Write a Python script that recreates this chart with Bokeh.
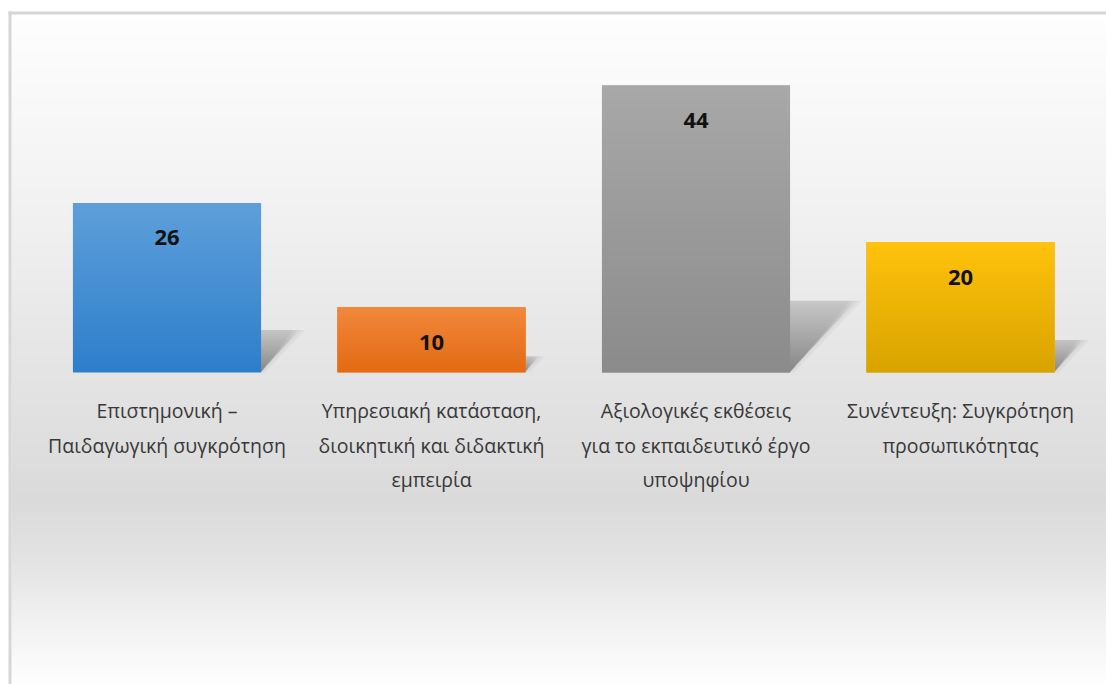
import numpy as np
from bokeh.plotting import figure
from bokeh.models import Range1d
from bokeh.core.properties import value
from bokeh.embed import file_html
from bokeh.resources import INLINE

# ---------------- data ----------------
categories = [
    "Επιστημονική –\nΠαιδαγωγική συγκρότηση",
    "Υπηρεσιακή κατάσταση,\nδιοικητική και διδακτική\nεμπειρία",
    "Αξιολογικές εκθέσεις\nγια το εκπαιδευτικό έργο\nυποψηφίου",
    "Συνέντευξη: Συγκρότηση\nπροσωπικότητας",
]
values = [26, 10, 44, 20]
top_colors = ["#5e9fda", "#f2883c", "#a8a8a8", "#ffc30c"]
bottom_colors = ["#2d7ecb", "#e26a12", "#8b8b8b", "#d9a300"]

# ---------------- geometry / style ----------------
W, H = 1106, 684
XSTEP = 264.5      # px per category
X0 = 166.5         # px of first category centre
YS = 6.52          # px per unit
BASE = 372         # px from top of the baseline
BW = 0.711         # bar width (category units)
FONT = "Open Sans"

x_range = Range1d(-X0 / XSTEP, (W - X0) / XSTEP)
y_range = Range1d(-(H - BASE) / YS, BASE / YS)


def dx(fx):
    return x_range.start + fx / XSTEP


def dy(fy):
    return y_range.end - fy / YS


def hexcol(rgb):
    return "#%02x%02x%02x" % tuple(int(round(c)) for c in rgb)


def h2rgb(h):
    h = h.lstrip("#")
    return np.array([int(h[i:i + 2], 16) for i in (0, 2, 4)], dtype=float)


p = figure(width=W, height=H, x_range=x_range, y_range=y_range,
           x_axis_type=None, y_axis_type=None, toolbar_location=None,
           output_backend="svg", min_border=0, outline_line_color=None,
           background_fill_color="white", border_fill_color="white")

# ---------------- background gradient ----------------
stops_y = [13, 198, 372, 500, 560, 620, 684]
stops_g = [254, 242, 228, 218, 227, 241, 254]
bl, br, bt, bb, bc = [], [], [], [], []
for fy in range(14, H, 2):
    g = np.interp(fy + 1, stops_y, stops_g)
    bl.append(dx(11)); br.append(dx(W))
    bt.append(dy(fy)); bb.append(dy(fy + 3))
    bc.append(hexcol((g, g, g)))
p.quad(left=bl, right=br, top=bt, bottom=bb, fill_color=bc, line_color=None)

# border (top and left edges of the chart box)
p.quad(left=[dx(8), dx(8)], right=[dx(W), dx(11)], top=[dy(11), dy(11)],
       bottom=[dy(14), dy(H)], fill_color="#d6d6d6", line_color=None)

# ---------------- shadows (soft translucent wedges) ----------------
xs_list, ys_list, alphas = [], [], []
n = 30
for i, v in enumerate(values):
    R = i + BW / 2
    sh = 0.25 * v * YS
    dxs = 0.95 * sh
    # blurred diagonal edge: full-height wedges with shifted edge
    for off in (-8, -4, 0, 4):
        xs_list.append([R, R + max(off, 0) / XSTEP,
                        R + max(dxs + off, 0) / XSTEP, R])
        ys_list.append([0, 0, sh / YS, sh / YS])
        alphas.append(0.035)
    # vertical fade: nested wedges, darker near the ground
    for k in range(1, n + 1):
        yk = k / n * sh
        xk = dxs * yk / sh - 2
        xs_list.append([R, R, R + max(xk, 0) / XSTEP, R])
        ys_list.append([0, 0, yk / YS, yk / YS])
        alphas.append(0.0075)
p.patches(xs=xs_list, ys=ys_list, fill_color="black", fill_alpha=alphas,
          line_color=None)

# ---------------- bars ----------------
xs = list(range(len(values)))
p.vbar(x=xs, top=values, bottom=0, width=BW, fill_color=bottom_colors,
       line_color=None)

gl, gr, gt, gb, gc = [], [], [], [], []
for i, v in enumerate(values):
    hpx = v * YS
    c_top, c_bot = h2rgb(top_colors[i]), h2rgb(bottom_colors[i])
    steps = int(hpx // 2)
    for k in range(steps):
        y_top_px = hpx - 2 * k
        y_bot_px = max(hpx - 2 * k - 3, 0)
        t = (2 * k + 1) / hpx
        gl.append(i - BW / 2); gr.append(i + BW / 2)
        gt.append(y_top_px / YS); gb.append(y_bot_px / YS)
        gc.append(hexcol(c_top * (1 - t) + c_bot * t))
p.quad(left=gl, right=gr, top=gt, bottom=gb, fill_color=gc, line_color=None)

# ---------------- value labels ----------------
p.text(x=xs, y=[v - 35 / YS for v in values], text=[str(v) for v in values],
       text_font=value(FONT), text_font_size="22px", text_font_style="bold",
       text_color="#111111", text_align="center", text_baseline="middle")

# ---------------- category labels ----------------
lx, ly, lt = [], [], []
for i, c in enumerate(categories):
    for j, line in enumerate(c.split("\n")):
        lx.append(i)
        ly.append(-(38 + 34.5 * j) / YS)
        lt.append(line)
p.text(x=lx, y=ly, text=lt, text_font=value(FONT), text_font_size="19.5px",
       text_color="#383838", text_align="center", text_baseline="middle")

open("out.html", "w").write(file_html(p, INLINE))
